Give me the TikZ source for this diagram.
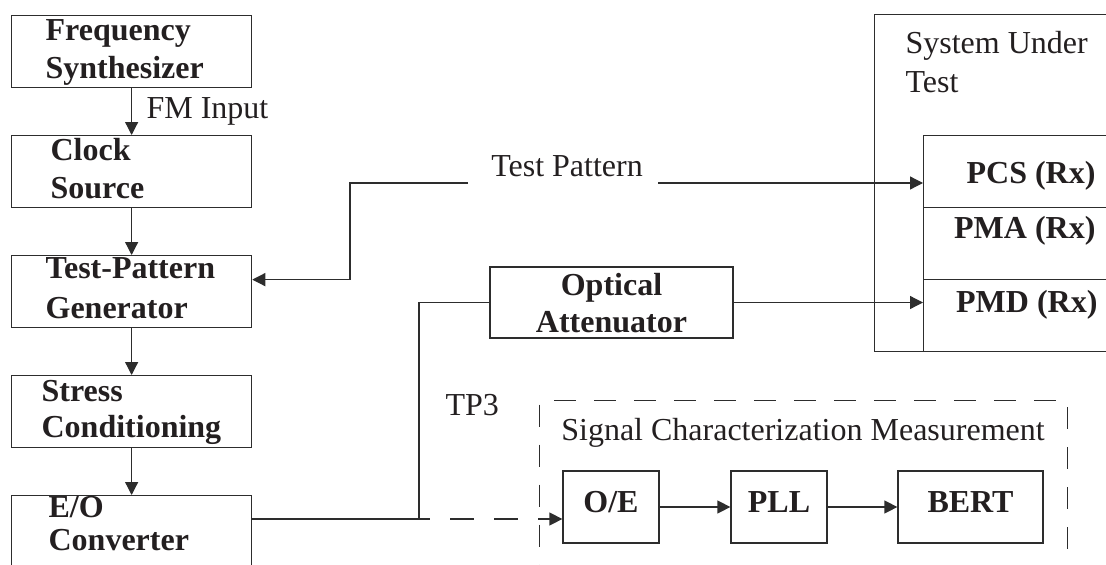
\documentclass[tikz,border=0pt]{standalone}
\usepackage{fontspec}
\setmainfont{Liberation Serif}
\usetikzlibrary{arrows.meta}
\definecolor{ink}{RGB}{35,31,32}
\definecolor{linec}{RGB}{45,45,45}
\tikzset{
  every node/.style={text=ink},
  ln/.style={draw=linec, line width=1.25pt},
  arr/.style={ln, -{Triangle[length=13pt,width=13pt]}},
  bb/.style={draw=linec, line width=1.25pt, rectangle, inner sep=0pt},
  btxt/.style={font=\bfseries\fontsize{32}{38}\selectfont},
  ntxt/.style={font=\fontsize{32}{38}\selectfont},
  lbox/.style 2 args={bb, anchor=north west, minimum height=72pt, inner xsep=#1, text width=#2, align=left, btxt, text height=22pt},
}
\begin{document}
\begin{tikzpicture}[x=1pt, y=-1pt]
\useasboundingbox (0,0) rectangle (1106,565);
\clip (0,0) rectangle (1106,565);

% left column
\node[lbox={34pt}{172pt}, text depth=44pt] (fs) at (11,15) {Frequency\\Synthesizer};
\node[lbox={39pt}{162pt}, text depth=44pt] (cs) at (11,135) {Clock\\Source};
\node[lbox={34pt}{172pt}, font=\bfseries\fontsize{32}{40}\selectfont, text depth=48pt] (tpg) at (11,255) {\mbox{Test-Pattern}\\Generator};
\node[lbox={30pt}{180pt}, font=\bfseries\fontsize{32}{36}\selectfont, text depth=42pt] (sc) at (11,375) {Stress\\Conditioning};
\node[lbox={37pt}{166pt}, font=\bfseries\fontsize{32}{33}\selectfont, text depth=50pt] (eo) at (11,495) {E/O\\Converter};

\draw[arr] (fs) -- (cs);
\node[ntxt, anchor=base west] (fm) at (143,118) {FM Input};
\draw[arr] (cs) -- (tpg);
\draw[arr] (tpg) -- (sc);
\draw[arr] (sc) -- (eo);

% system under test
\node[bb, anchor=north west, minimum width=250pt, minimum height=337pt] (sut) at (874,14) {};
\node[ntxt, anchor=base west] (sut1) at (902,53) {System Under};
\node[ntxt, anchor=base west] (sut2) at (902,92) {Test};
\node[bb, anchor=north west, minimum width=200pt, minimum height=72pt] (pcs) at (923,135) {};
\node[bb, anchor=north west, minimum width=200pt, minimum height=72pt] (pma) at (923,207) {};
\node[bb, anchor=north west, minimum width=200pt, minimum height=72pt] (pmd) at (923,279) {};
\node[btxt, anchor=base east] (pcst) at (1099,183) {PCS (Rx)};
\node[btxt, anchor=base east] (pmat) at (1099,238) {PMA (Rx)};
\node[btxt, anchor=base east] (pmdt) at (1101,312) {PMD (Rx)};

% test pattern
\node[ntxt, anchor=base] (tp) at (567,176) {Test Pattern};
\coordinate (tpL) at (468,183);
\coordinate (tpB) at (350,183);
\coordinate (tpR) at (658,183);
\draw[arr] (tpL) -- (tpB) |- ([yshift=12pt]tpg.east);
\draw[arr] (tpR) -- (tpR -| pcs.west);

% optical attenuator
\node[bb, minimum width=243pt, minimum height=71pt, align=center, font=\bfseries\fontsize{32}{37}\selectfont, text height=59pt, text depth=0pt] (oa) at (611.5,302.5) {Optical\\Attenuator};
\coordinate (j) at (419,519);
\draw[ln] (eo.east |- j) -- (j) |- (oa.west);
\draw[arr] (oa.east) -- (oa.east -| pmd.west);

% signal characterization measurement
\node[ntxt, anchor=base west] (tp3) at (442,415) {TP3};
\node[draw=linec, line width=1.25pt, dash pattern=on 22pt off 18pt, anchor=north west, minimum width=528pt, minimum height=220pt, inner sep=0pt] (scm) at (539,400) {};
\node[ntxt, anchor=base] (scmt) at (803,440) {Signal Characterization Measurement};
\node[bb, btxt, minimum width=96pt, minimum height=72pt, text height=22pt, text depth=12pt] (oe) at (611,507) {O/E};
\node[bb, btxt, minimum width=96pt, minimum height=72pt, text height=22pt, text depth=12pt] (pll) at (779,507) {PLL};
\node[bb, btxt, minimum width=145pt, minimum height=72pt, text height=22pt, text depth=12pt] (bert) at (970.5,507) {BERT};
\draw[arr, dash pattern=on 24pt off 20pt, dash phase=13pt] (j) -- (j -| oe.west);
\draw[arr] (oe) -- (pll);
\draw[arr] (pll) -- (bert);
\end{tikzpicture}
\end{document}
